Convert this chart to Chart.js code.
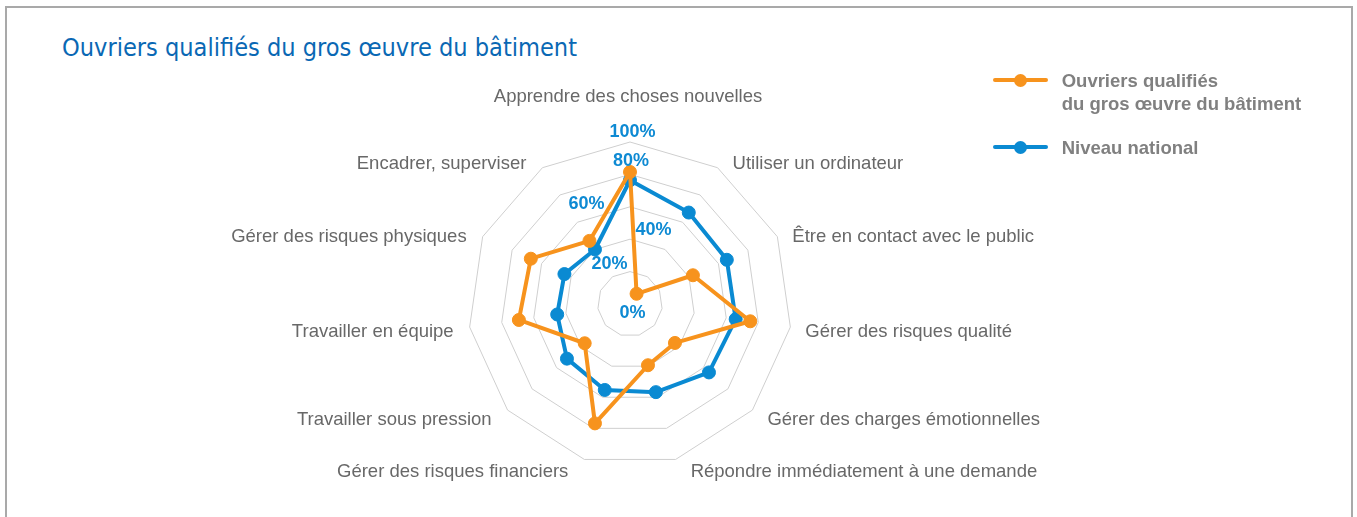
<!DOCTYPE html>
<html><head><meta charset="utf-8">
<script src="https://cdn.jsdelivr.net/npm/chart.js@4.4.1/dist/chart.umd.min.js"></script>
<style>
html,body{margin:0;padding:0;background:#fff;width:1357px;height:517px;overflow:hidden;}
#frame{position:absolute;left:5px;top:6px;width:1344px;height:600px;border:2px solid #a9a9a9;}
#title{position:absolute;left:62px;top:33px;font-family:"DejaVu Sans Condensed","DejaVu Sans";font-stretch:condensed;font-size:24px;line-height:30px;color:#0a68b4;white-space:nowrap;transform-origin:0 0;}
#chart{position:absolute;left:0;top:0;}
#legend{position:absolute;left:993px;top:68.5px;font-family:"Liberation Sans",Arial,sans-serif;font-weight:bold;font-size:18.5px;line-height:23px;color:#808080;}
.item{position:relative;padding-left:68.7px;white-space:nowrap;}
.item + .item{margin-top:21px;}
.mk{position:absolute;left:0;top:9.5px;width:55px;height:4px;border-radius:2px;}
.mk i{position:absolute;left:21px;top:-4.5px;width:13px;height:13px;border-radius:50%;}
</style></head>
<body>
<div id="frame"></div>
<div id="title"></div>
<canvas id="chart" width="1357" height="517"></canvas>
<div id="legend"></div>
<script>
// ---- data ----
const chartTitle = "Ouvriers qualifiés du gros œuvre du bâtiment";
const categories = [
  "Apprendre des choses nouvelles",
  "Utiliser un ordinateur",
  "Être en contact avec le public",
  "Gérer des risques qualité",
  "Gérer des charges émotionnelles",
  "Répondre immédiatement à une demande",
  "Gérer des risques financiers",
  "Travailler sous pression",
  "Travailler en équipe",
  "Gérer des risques physiques",
  "Encadrer, superviser"
];
const seriesNames = [["Ouvriers qualifiés", "du gros œuvre du bâtiment"], ["Niveau national"]];
const ouvriersValues = [81.5, 7.5, 42.7, 75, 36.7, 39.4, 76.8, 37, 69.3, 67.3, 46.3];
const nationalValues = [76.4, 67.1, 65.7, 65.9, 64.5, 56.7, 55.3, 51.5, 45.4, 44.5, 40];
const tickValues = [0, 20, 40, 60, 80, 100];
const seriesColors = ["#f7931d", "#0a8ad2"];

// ---- title ----
const titleEl = document.getElementById('title');
titleEl.textContent = chartTitle;
const tw = titleEl.getBoundingClientRect().width;
titleEl.style.transform = 'scaleX(' + (515 / tw) + ')';

// ---- legend ----
const legendEl = document.getElementById('legend');
seriesNames.forEach((lines, i) => {
  const d = document.createElement('div');
  d.className = 'item';
  const mk = document.createElement('span');
  mk.className = 'mk';
  mk.style.background = seriesColors[i];
  const dot = document.createElement('i');
  dot.style.background = seriesColors[i];
  mk.appendChild(dot);
  d.appendChild(mk);
  lines.forEach((t, j) => {
    if (j) d.appendChild(document.createElement('br'));
    d.appendChild(document.createTextNode(t));
  });
  legendEl.appendChild(d);
});

// ---- label styling (offsets relative to scale positions) ----
const tickLabelShift = {0: [2.6, 7.3], 20: [-20.4, -8.6], 40: [23.6, -10.6], 60: [-43.4, -3.8], 80: [1, -14.8], 100: [2.6, -11.7]};

const labelPlugin = {
  id: 'labelPlugin',
  afterDatasetsDraw(chart) {
    const scale = chart.scales.r;
    const ctx = chart.ctx;
    ctx.save();
    // point labels
    ctx.font = '18.5px "Liberation Sans", Arial, sans-serif';
    ctx.fillStyle = '#686868';
    ctx.textBaseline = 'middle';
    categories.forEach((lab, i) => {
      const p = scale.getPointPosition(i, scale.drawingArea);
      const a = scale.getIndexAngle(i);
      const s = Math.sin(a), c = Math.cos(a);
      let x, y;
      if (Math.abs(s) < 0.1) {
        ctx.textAlign = 'center';
        x = p.x - 2; y = p.y - 45;
      } else if (s > 0) {
        ctx.textAlign = 'left';
        x = p.x + 15; y = p.y + 3.5 - 9 * c;
      } else {
        ctx.textAlign = 'right';
        x = p.x - 16; y = p.y + 3.5 - 9 * c;
      }
      ctx.fillText(lab, x, y);
    });
    // tick labels
    ctx.font = 'bold 18px "Liberation Sans", Arial, sans-serif';
    ctx.fillStyle = '#0e8ad3';
    ctx.textAlign = 'center';
    tickValues.forEach(v => {
      const r = scale.getDistanceFromCenterForValue(v);
      const sh = tickLabelShift[v] || [0, 0];
      ctx.fillText(v + '%', scale.xCenter + sh[0], scale.yCenter - r + sh[1] + 1.5);
    });
    ctx.restore();
  }
};

new Chart(document.getElementById('chart'), {
  type: 'radar',
  data: {
    labels: categories,
    datasets: [
      {label: seriesNames[0].join(' '), data: ouvriersValues, borderColor: seriesColors[0], backgroundColor: seriesColors[0],
       pointBackgroundColor: seriesColors[0], pointBorderColor: seriesColors[0]},
      {label: seriesNames[1].join(' '), data: nationalValues, borderColor: seriesColors[1], backgroundColor: seriesColors[1],
       pointBackgroundColor: seriesColors[1], pointBorderColor: seriesColors[1]}
    ]
  },
  options: {
    responsive: false,
    devicePixelRatio: 1,
    animation: false,
    layout: {padding: {left: 430, right: 527, top: 142, bottom: 51}},
    elements: {
      line: {borderWidth: 4, tension: 0, fill: false, borderJoinStyle: 'round'},
      point: {radius: 6.5, borderWidth: 1, hoverRadius: 6.5}
    },
    plugins: {legend: {display: false}, title: {display: false}, tooltip: {enabled: false}},
    scales: {
      r: {
        min: 0, max: 100,
        ticks: {display: false, stepSize: 20},
        grid: {color: '#cfcfcf', lineWidth: 1},
        angleLines: {display: false},
        pointLabels: {display: false}
      }
    }
  },
  plugins: [labelPlugin]
});
</script>
</body></html>
